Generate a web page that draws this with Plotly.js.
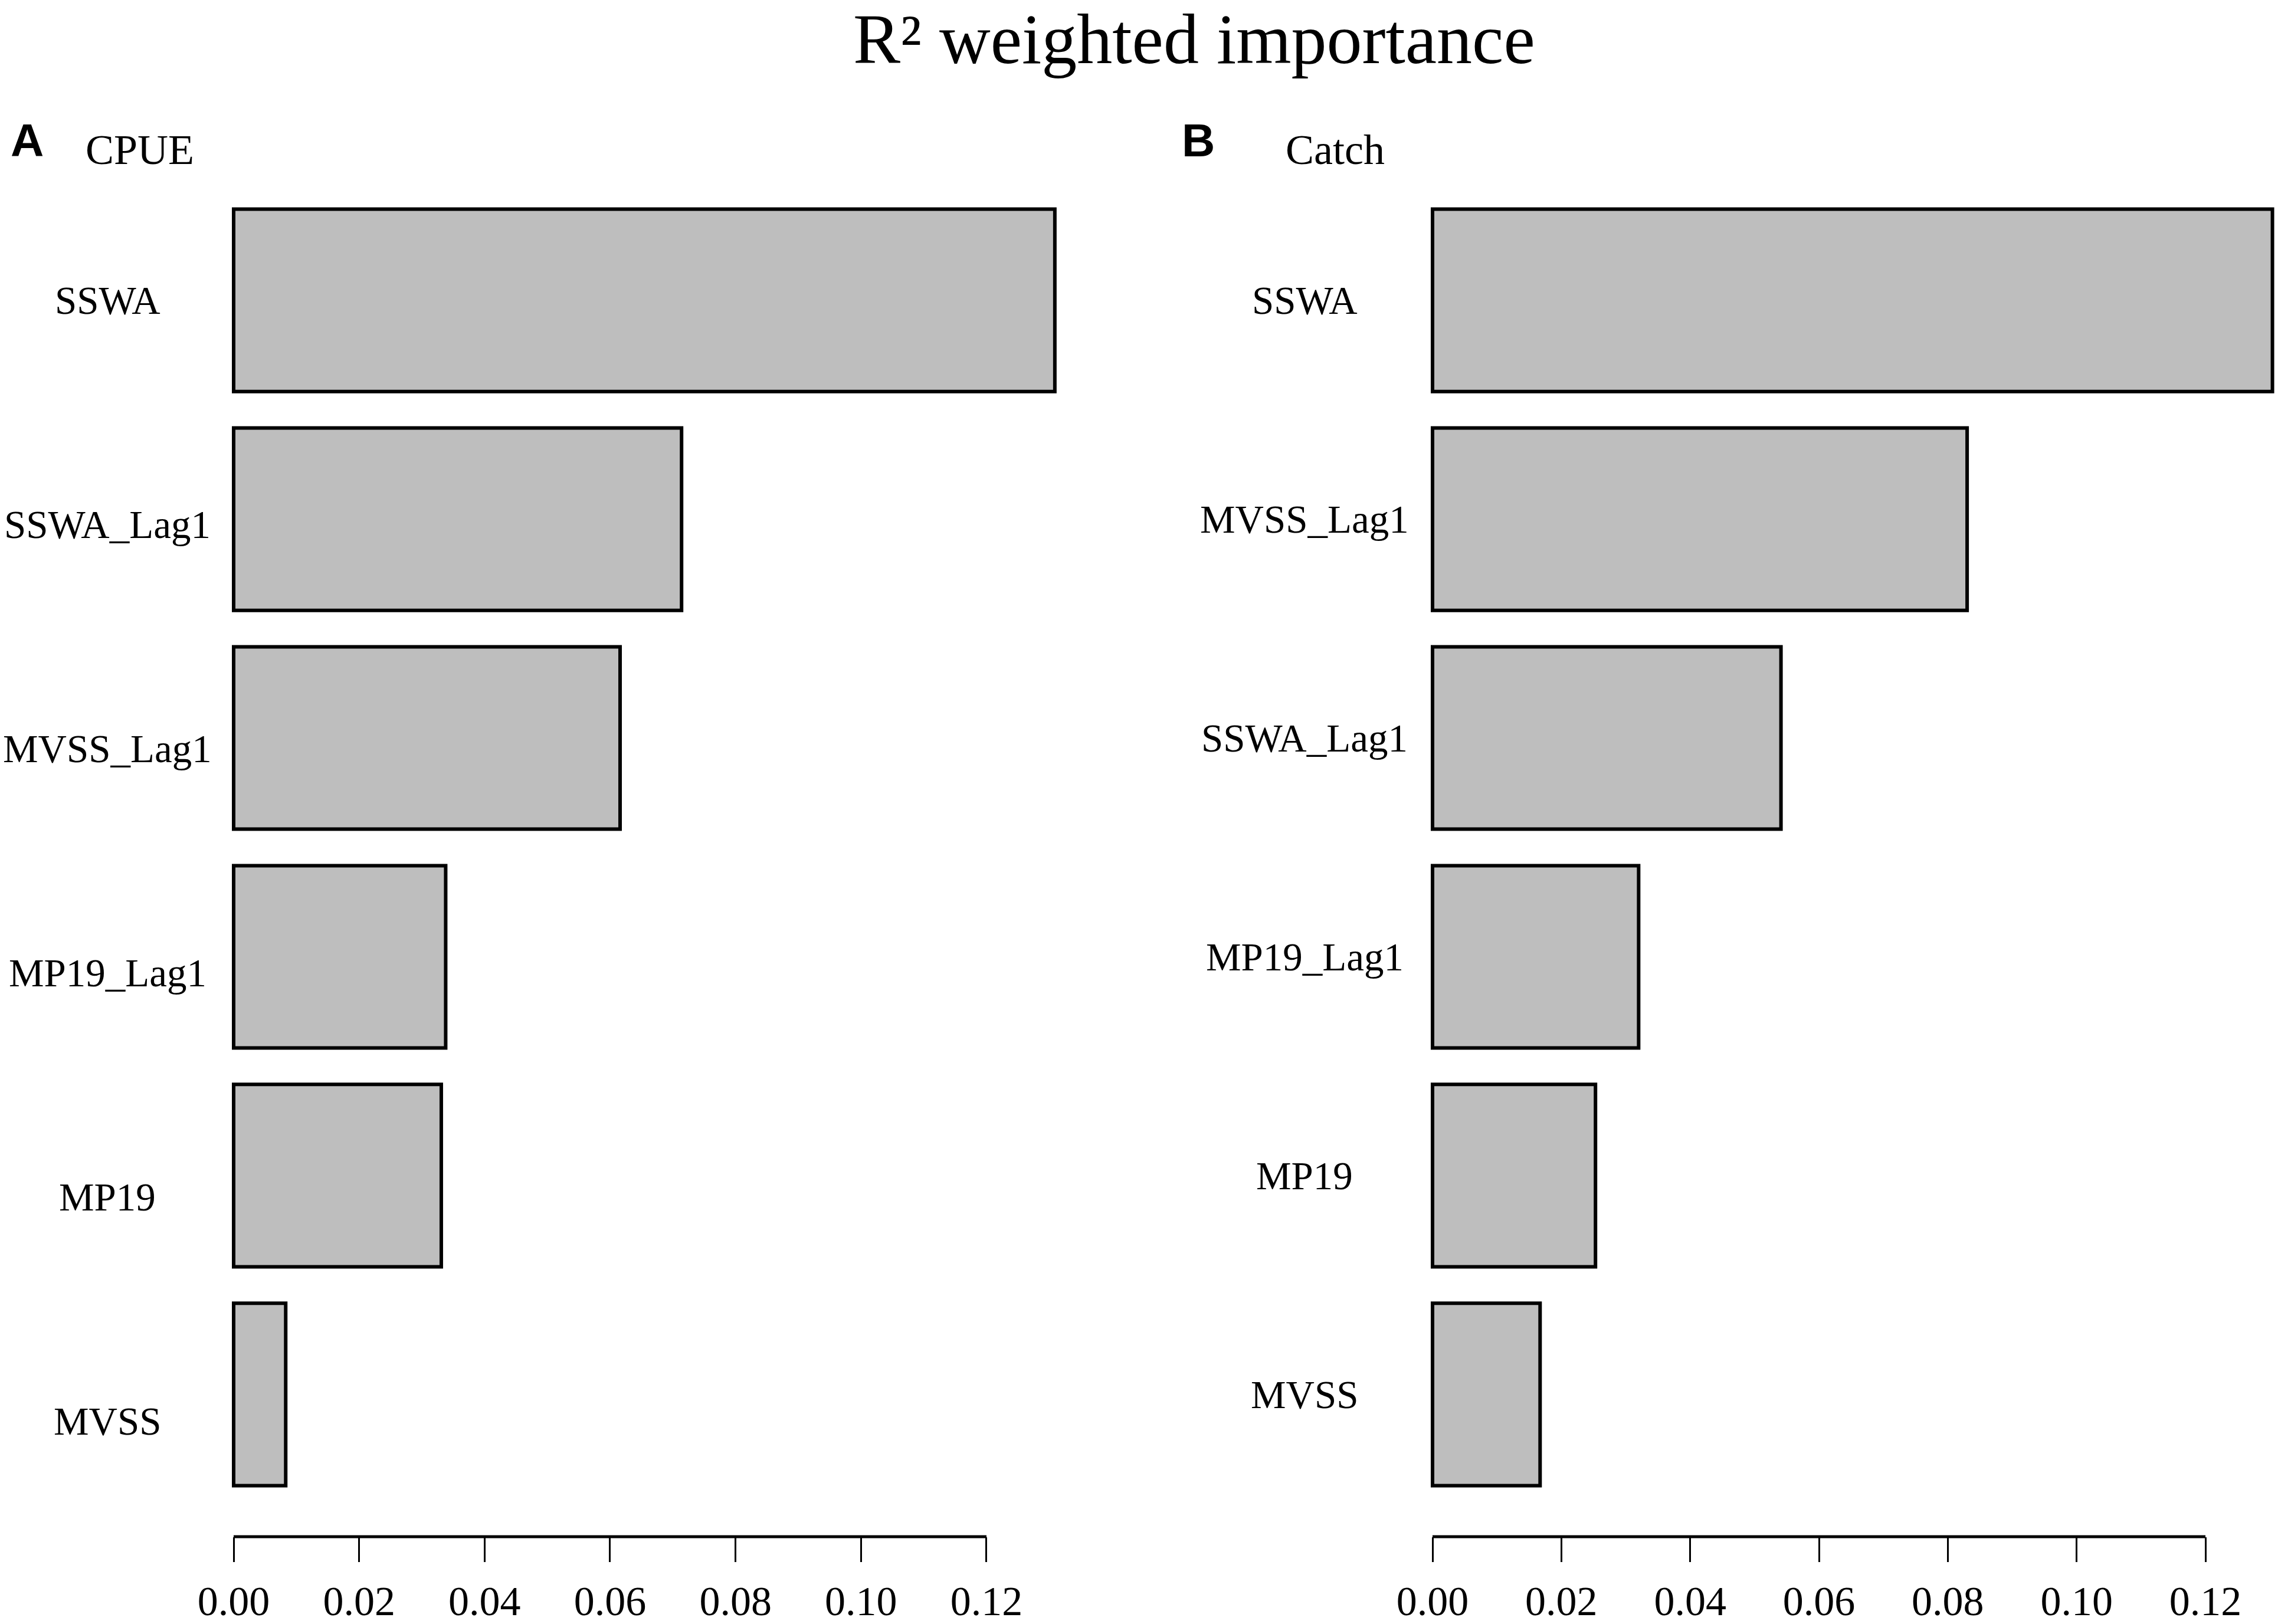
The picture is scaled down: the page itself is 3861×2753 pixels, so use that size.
<!DOCTYPE html>
<html>
<head>
<meta charset="utf-8">
<script src="https://cdn.plot.ly/plotly-3.0.1.min.js"></script>
<style>
  html, body { margin: 0; padding: 0; background: #fff; }
  #myDiv { width: 3861px; height: 2753px; }
</style>
</head>
<body>
<div id="myDiv"></div>
<script>
// panel A: CPUE
let cpueVars = ['SSWA', 'SSWA_Lag1', 'MVSS_Lag1', 'MP19_Lag1', 'MP19', 'MVSS']
let cpueImp = [0.1309, 0.0714, 0.0616, 0.0338, 0.0331, 0.0083]

// panel B: Catch
let catchVars = ['SSWA', 'MVSS_Lag1', 'SSWA_Lag1', 'MP19_Lag1', 'MP19', 'MVSS']
let catchImp = [0.1304, 0.0830, 0.0541, 0.0320, 0.0253, 0.0167]

let tickVals = [0, 0.02, 0.04, 0.06, 0.08, 0.10, 0.12]
let tickText = ['0.00', '0.02', '0.04', '0.06', '0.08', '0.10', '0.12']

const serif = 'Liberation Serif, Times New Roman, serif'
const W = 3861, H = 2753

var traceA = {
  y: cpueVars, x: cpueImp,
  type: 'bar', orientation: 'h',
  xaxis: 'x', yaxis: 'y',
  marker: { color: '#bebebe', line: { color: '#000', width: 6 } },
  hoverinfo: 'none'
};

var traceB = {
  y: catchVars, x: catchImp,
  type: 'bar', orientation: 'h',
  xaxis: 'x2', yaxis: 'y2',
  marker: { color: '#bebebe', line: { color: '#000', width: 6 } },
  hoverinfo: 'none'
};

var yBottom = 1 - 2605 / H
var yTop = 1 - 268 / H

function xAxis(domain, range) {
  return {
    domain: domain, range: range,
    showgrid: false, zeroline: false, showline: false,
    ticks: 'outside', ticklen: 42, tickwidth: 3, tickcolor: '#000',
    tickvals: tickVals, ticktext: tickText,
    ticklabelstandoff: 6,
    tickfont: { family: serif, size: 70, color: '#000' },
    fixedrange: true
  }
}

function yAxis(anchor) {
  return {
    domain: [yBottom, yTop], anchor: anchor,
    range: [5.65, -0.65],
    showgrid: false, zeroline: false, showline: false,
    showticklabels: false, ticks: '',
    fixedrange: true
  }
}

// category labels as annotations (panel A labels drift slightly downward)
let annos = []
for (let i = 0; i < cpueVars.length; i++) {
  annos.push({
    xref: 'paper', yref: 'y', x: 182 / W, y: cpueVars[i],
    text: cpueVars[i], showarrow: false, xanchor: 'center', yanchor: 'middle',
    yshift: -9 * i,
    font: { family: serif, size: 67, color: '#000' }
  })
}
for (let i = 0; i < catchVars.length; i++) {
  annos.push({
    xref: 'paper', yref: 'y2', x: 2211 / W, y: catchVars[i],
    text: catchVars[i], showarrow: false, xanchor: 'center', yanchor: 'middle',
    font: { family: serif, size: 67, color: '#000' }
  })
}

// title, panel letters, subtitles
annos.push({
  xref: 'paper', yref: 'paper', x: 2024 / W, y: 1 - 66 / H,
  text: 'R² weighted importance', showarrow: false,
  xanchor: 'center', yanchor: 'middle',
  font: { family: serif, size: 120, color: '#000' }
})
annos.push({
  xref: 'paper', yref: 'paper', x: 46 / W, y: 1 - 238 / H,
  text: '<b>A</b>', showarrow: false, xanchor: 'center', yanchor: 'middle',
  font: { family: 'Liberation Sans, Arial, sans-serif', size: 78, color: '#000' }
})
annos.push({
  xref: 'paper', yref: 'paper', x: 2031 / W, y: 1 - 238 / H,
  text: '<b>B</b>', showarrow: false, xanchor: 'center', yanchor: 'middle',
  font: { family: 'Liberation Sans, Arial, sans-serif', size: 78, color: '#000' }
})
annos.push({
  xref: 'paper', yref: 'paper', x: 237 / W, y: 1 - 254 / H,
  text: 'CPUE', showarrow: false, xanchor: 'center', yanchor: 'middle',
  font: { family: serif, size: 72, color: '#000' }
})
annos.push({
  xref: 'paper', yref: 'paper', x: 2263 / W, y: 1 - 254 / H,
  text: 'Catch', showarrow: false, xanchor: 'center', yanchor: 'middle',
  font: { family: serif, size: 72, color: '#000' }
})

// axis lines only over the tick span, like base R
let shapes = [
  { type: 'line', xref: 'x', yref: 'paper', x0: 0, x1: 0.12, y0: yBottom, y1: yBottom,
    line: { color: '#000', width: 5 } },
  { type: 'line', xref: 'x2', yref: 'paper', x0: 0, x1: 0.12, y0: yBottom, y1: yBottom,
    line: { color: '#000', width: 5 } }
]

var layout = {
  width: W, height: H,
  margin: { l: 0, r: 0, t: 0, b: 0 },
  paper_bgcolor: '#fff', plot_bgcolor: '#fff',
  showlegend: false,
  bargap: 0.2 / 1.2,
  xaxis: xAxis([340 / W, 1844 / W], [(340 - 396) / 10633, (1844 - 396) / 10633]),
  yaxis: yAxis('x'),
  xaxis2: xAxis([2371 / W, 1], [(2371 - 2428) / 10917, (W - 2428) / 10917]),
  yaxis2: yAxis('x2'),
  annotations: annos,
  shapes: shapes
};
layout.xaxis.anchor = 'y'
layout.xaxis2.anchor = 'y2'

Plotly.newPlot('myDiv', [traceA, traceB], layout, { staticPlot: true });
</script>
</body>
</html>
